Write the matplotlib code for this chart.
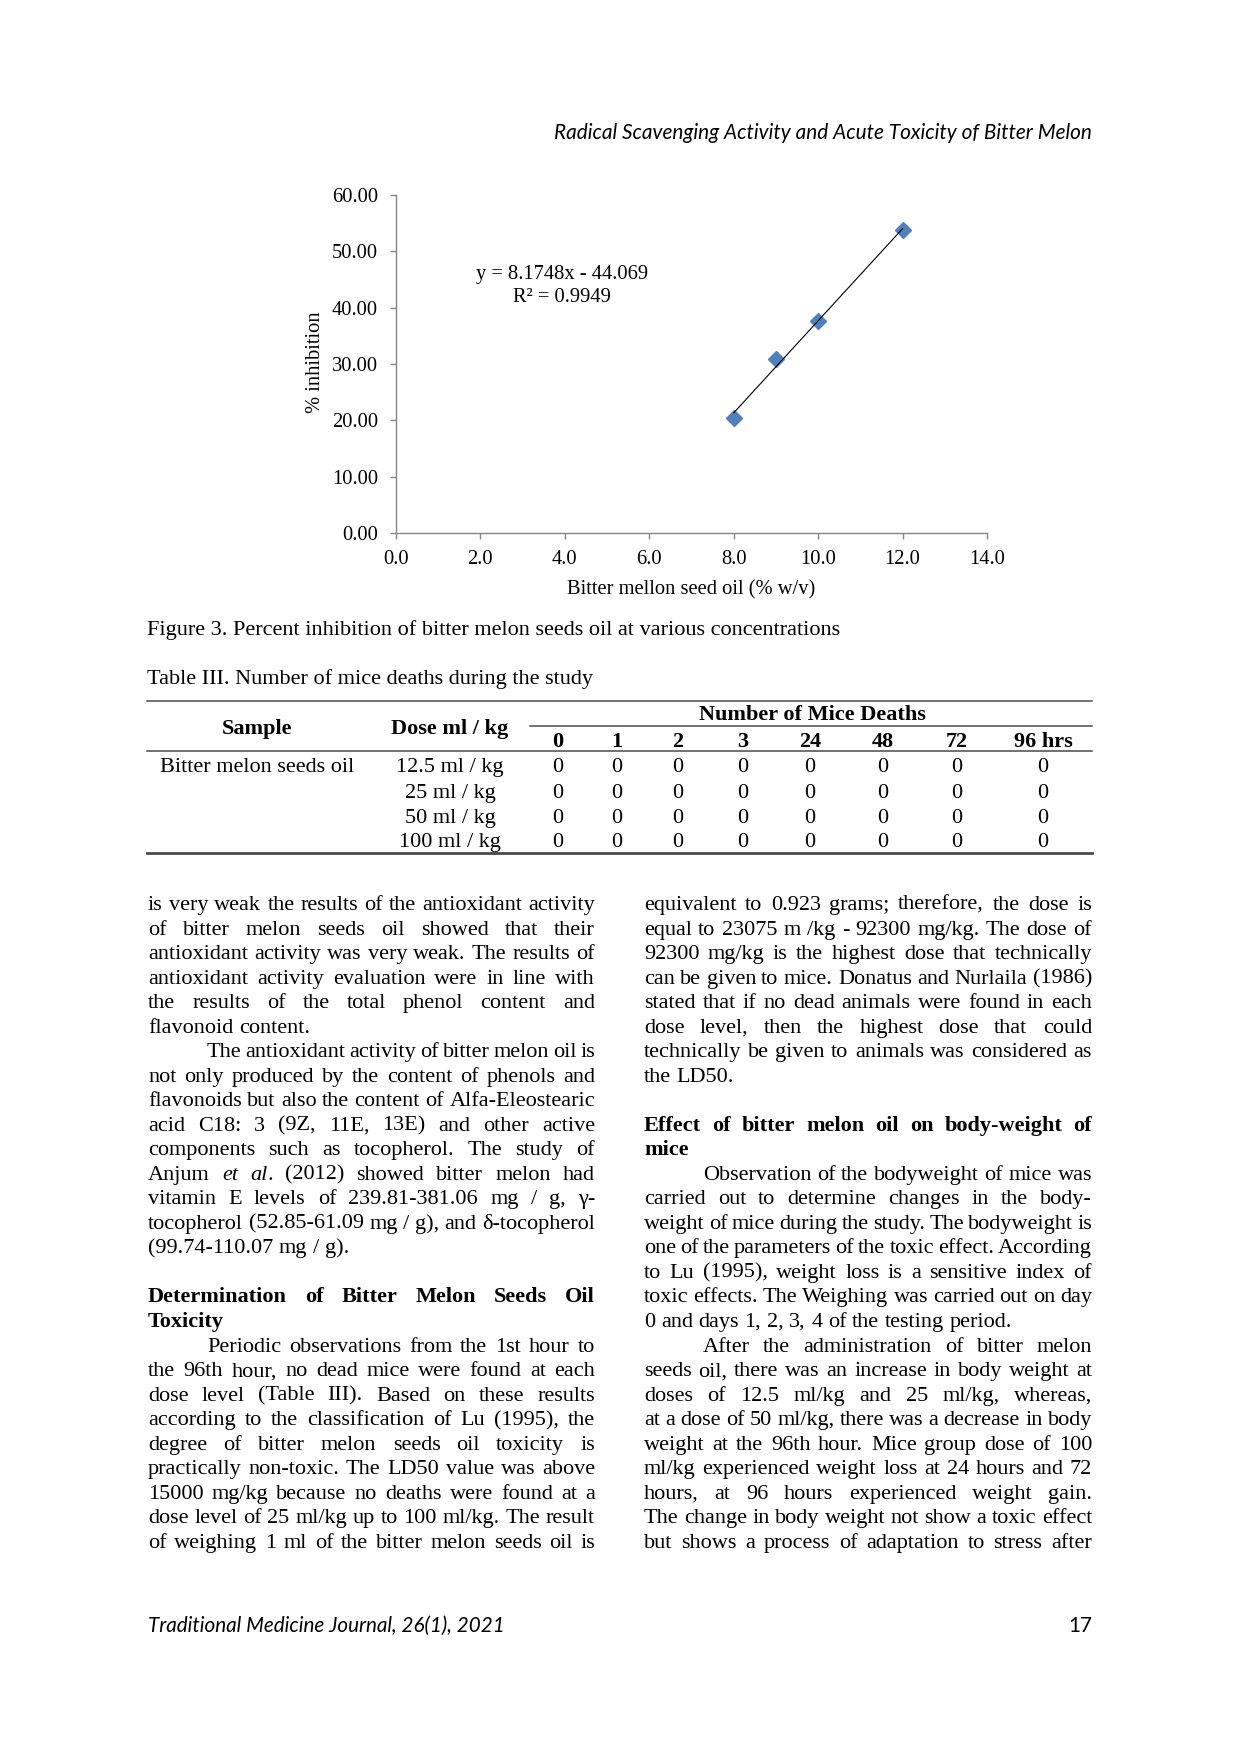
import matplotlib
matplotlib.use("Agg")
import matplotlib.pyplot as plt
from matplotlib.font_manager import FontProperties
import numpy as np

# ---- figure 3 data ----
conc = [8.0, 9.0, 10.0, 12.0]
inhibition = [20.4, 30.8, 37.7, 53.7]
slope, intercept, r2 = 8.1748, -44.069, 0.9949
x_ticks = [0, 2, 4, 6, 8, 10, 12, 14]
y_ticks = [0, 10, 20, 30, 40, 50, 60]

# ---- table III data ----
sample = "Bitter melon seeds oil"
doses = ["12.5 ml / kg", "25 ml / kg", "50 ml / kg", "100 ml / kg"]
hours = ["0", "1", "2", "3", "24", "48", "72", "96 hrs"]
deaths = [[0, 0, 0, 0, 0, 0, 0, 0],
          [0, 0, 0, 0, 0, 0, 0, 0],
          [0, 0, 0, 0, 0, 0, 0, 0],
          [0, 0, 0, 0, 0, 0, 0, 0]]

# ---- body text (> indent, # bold, | paragraph end) ----
left_lines = [
    "is very weak the results of the antioxidant activity",
    "of bitter melon seeds oil showed that their",
    "antioxidant activity was very weak. The results of",
    "antioxidant activity evaluation were in line with",
    "the results of the total phenol content and",
    "flavonoid content.|",
    ">The antioxidant activity of bitter melon oil is",
    "not only produced by the content of phenols and",
    "flavonoids but also the content of Alfa-Eleostearic",
    "acid C18: 3 (9Z, 11E, 13E) and other active",
    "components such as tocopherol. The study of",
    "Anjum *et* *al*. (2012) showed bitter melon had",
    "vitamin E levels of 239.81-381.06 mg / g, γ-",
    "tocopherol (52.85-61.09 mg / g), and δ-tocopherol",
    "(99.74-110.07 mg / g).|",
    "",
    "#Determination of Bitter Melon Seeds Oil",
    "#Toxicity|",
    ">Periodic observations from the 1st hour to",
    "the 96th hour, no dead mice were found at each",
    "dose level (Table III). Based on these results",
    "according to the classification of Lu (1995), the",
    "degree of bitter melon seeds oil toxicity is",
    "practically non-toxic. The LD50 value was above",
    "15000 mg/kg because no deaths were found at a",
    "dose level of 25 ml/kg up to 100 ml/kg. The result",
    "of weighing 1 ml of the bitter melon seeds oil is",
]
right_lines = [
    "equivalent to 0.923 grams; therefore, the dose is",
    "equal to 23075 m /kg - 92300 mg/kg. The dose of",
    "92300 mg/kg is the highest dose that technically",
    "can be given to mice. Donatus and Nurlaila (1986)",
    "stated that if no dead animals were found in each",
    "dose level, then the highest dose that could",
    "technically be given to animals was considered as",
    "the LD50.|",
    "",
    "#Effect of bitter melon oil on body-weight of",
    "#mice|",
    ">Observation of the bodyweight of mice was",
    "carried out to determine changes in the body-",
    "weight of mice during the study. The bodyweight is",
    "one of the parameters of the toxic effect. According",
    "to Lu (1995), weight loss is a sensitive index of",
    "toxic effects. The Weighing was carried out on day",
    "0 and days 1, 2, 3, 4 of the testing period.|",
    ">After the administration of bitter melon",
    "seeds oil, there was an increase in body weight at",
    "doses of 12.5 ml/kg and 25 ml/kg, whereas,",
    "at a dose of 50 ml/kg, there was a decrease in body",
    "weight at the 96th hour. Mice group dose of 100",
    "ml/kg experienced weight loss at 24 hours and 72",
    "hours, at 96 hours experienced weight gain.",
    "The change in body weight not show a toxic effect",
    "but shows a process of adaptation to stress after",
]

plt.rcParams['font.family'] = ['Liberation Serif', 'DejaVu Serif']
W, H = 1240, 1754
fig = plt.figure(figsize=(12.4, 17.54), dpi=100)
page = fig.add_axes([0, 0, 1, 1])
page.set_xlim(0, W)
page.set_ylim(H, 0)
page.axis('off')
renderer = fig.canvas.get_renderer()

SERIF = 'Liberation Serif'
BODY = 16


def text_w(s, size, weight='normal', style='normal', family=SERIF):
    fp = FontProperties(family=family, size=size, weight=weight, style=style)
    w, h, d = renderer.get_text_width_height_descent(s, fp, ismath=False)
    return w


def fit_size(s, target, **kw):
    return 10 * target / text_w(s, 10, **kw)


# running header / footer (Calibri italic in the original)
hdr = "Radical Scavenging Activity and Acute Toxicity of Bitter Melon"
hs = fit_size(hdr, 538, family='Lato', style='italic')
page.text(1092, 139, hdr, ha='right', va='baseline', family='Lato',
          style='italic', fontsize=hs)
ftr = "Traditional Medicine Journal, 26(1), 2021"
fs = fit_size(ftr, 357, family='Lato', style='italic')
page.text(148, 1632, ftr, ha='left', va='baseline', family='Lato',
          style='italic', fontsize=fs)
page.text(1092, 1632, "17", ha='right', va='baseline', family='Lato', fontsize=fs)

# ---- chart ----
gray = '#868686'
ax = fig.add_axes([396 / W, 1 - 533 / H, 591 / W, 338 / H])
ax.plot(conc, inhibition, 'D', color='#4F81BD', ms=8.5, mec='#4F81BD', zorder=3)
xs = np.array([min(conc), max(conc)])
ax.plot(xs, slope * xs + intercept, color='black', lw=0.8, zorder=4)
ax.set_xlim(0, 14)
ax.set_ylim(0, 60)
ax.set_xticks(x_ticks)
ax.set_xticklabels([f"{v:.1f}" for v in x_ticks])
ax.set_yticks(y_ticks)
ax.set_yticklabels([f"{v:.2f}" for v in y_ticks])
for side in ['top', 'right']:
    ax.spines[side].set_visible(False)
for side in ['left', 'bottom']:
    ax.spines[side].set_color(gray)
    ax.spines[side].set_linewidth(1.0)
ax.tick_params(direction='out', length=4.5, width=1, color=gray, labelsize=14.8)
ax.tick_params(axis='y', pad=8.5)
ax.tick_params(axis='x', pad=8)
ax.set_xlabel("Bitter mellon seed oil (% w/v)", fontsize=14.8)
ax.set_ylabel("% inhibition", fontsize=14.8)
ax.xaxis.set_label_coords(0.5, -0.168)
ax.xaxis.label.set_va('center')
ax.yaxis.set_label_coords(-0.137, 0.506)
ax.yaxis.label.set_va('center')
ax.text(3.93, 45.8, f"y = {slope}x - {abs(intercept)}", ha='center', va='center',
        fontsize=14.8)
ax.text(3.93, 41.8, f"R² = {r2}", ha='center', va='center', fontsize=14.8)

# ---- captions ----
page.text(147, 635, "Figure 3. Percent inhibition of bitter melon seeds oil at various concentrations",
          fontsize=BODY, va='baseline')
page.text(147, 684, "Table III. Number of mice deaths during the study",
          fontsize=BODY, va='baseline')

# ---- table ----
lc = '#4a4a4a'
page.plot([147, 1092], [701, 701], color=lc, lw=1.1)
page.plot([530, 1092], [726, 726], color=lc, lw=1.1)
page.plot([147, 1092], [751, 751], color=lc, lw=1.1)
page.plot([147, 1092], [853, 853], color=lc, lw=2.0)
col_x = [558, 617, 678, 743, 810, 883, 957, 1043]
page.text(257, 734, "Sample", ha='center', va='baseline', fontsize=BODY, weight='bold')
page.text(450, 734, "Dose ml / kg", ha='center', va='baseline', fontsize=BODY, weight='bold')
page.text(812, 720, "Number of Mice Deaths", ha='center', va='baseline', fontsize=BODY,
          weight='bold')
for cx, hname in zip(col_x, hours):
    page.text(cx, 747, hname, ha='center', va='baseline', fontsize=BODY, weight='bold')
row_y = [772, 798, 823, 847]
page.text(257, row_y[0], sample, ha='center', va='baseline', fontsize=BODY)
for ry, dose, row in zip(row_y, doses, deaths):
    page.text(450, ry, dose, ha='center', va='baseline', fontsize=BODY)
    for cx, v in zip(col_x, row):
        page.text(cx, ry, str(v), ha='center', va='baseline', fontsize=BODY)


# ---- justified body text ----
def word_parts(word):
    parts = []
    for i, seg in enumerate(word.split('*')):
        if seg:
            parts.append((seg, 'italic' if i % 2 else 'normal'))
    return parts


def draw_column(lines, x0, x1, y0, step):
    for i, raw in enumerate(lines):
        if not raw:
            continue
        y = y0 + i * step
        s = raw
        indent = s.startswith('>')
        s = s.lstrip('>')
        bold = s.startswith('#')
        s = s.lstrip('#')
        last = s.endswith('|')
        s = s.rstrip('|')
        weight = 'bold' if bold else 'normal'
        words = [word_parts(w) for w in s.split()]
        widths = [sum(text_w(seg, BODY, weight, st) for seg, st in wp) for wp in words]
        start = x0 + (59 if indent else 0)
        if last or len(words) < 2:
            gap = text_w("a b", BODY, weight) - text_w("ab", BODY, weight)
        else:
            gap = (x1 - start - sum(widths)) / (len(words) - 1)
        x = start
        for wp, ww in zip(words, widths):
            xx = x
            for seg, st in wp:
                page.text(xx, y, seg, ha='left', va='baseline', fontsize=BODY,
                          weight=weight, style=st)
                xx += text_w(seg, BODY, weight, st)
            x += ww + gap


draw_column(left_lines, 148, 595, 910, 24.53)
draw_column(right_lines, 644, 1092, 910, 24.53)

fig.savefig("out.png", dpi=100)
